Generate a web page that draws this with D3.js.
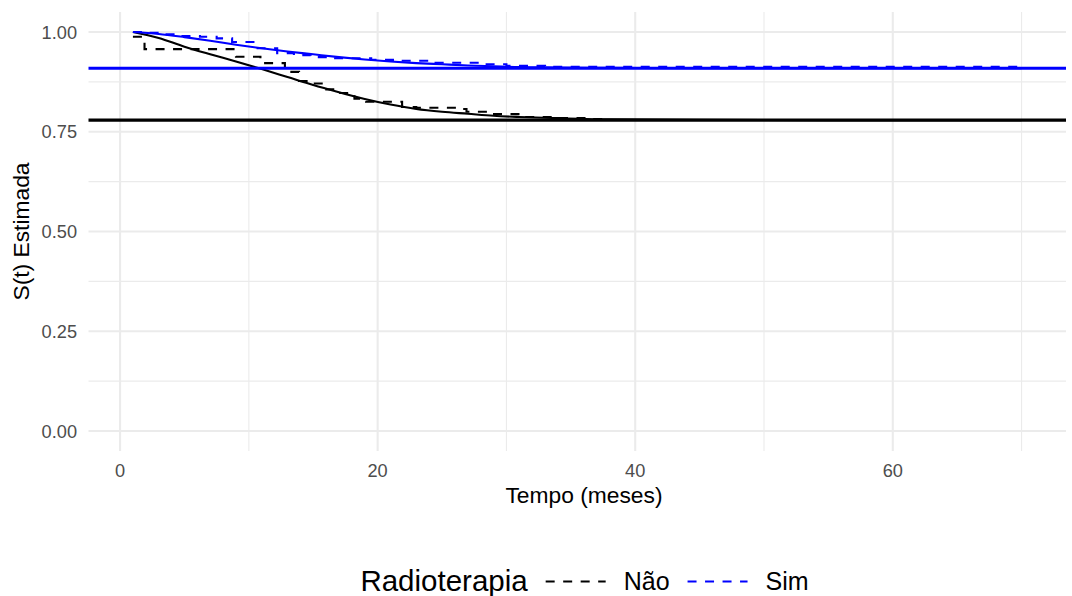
<!DOCTYPE html>
<html>
<head>
<meta charset="utf-8">
<script src="https://cdn.jsdelivr.net/npm/d3@7"></script>
<style>
  body { margin: 0; background: #fff; }
  text { font-family: "Liberation Sans", Arial, sans-serif; }
</style>
</head>
<body>
<svg id="chart" width="1072" height="596"></svg>
<script>
// groups (Radioterapia)
const groups = ["Não", "Sim"];
const groupColors = ["#000000", "#0000FF"];
const cureLevels = [0.779, 0.909];

// Kaplan-Meier estimates (step curves)
const kmNaoTime = [1, 1.9, 9.0, 10.9, 12.8, 13.9, 14.8, 15.8, 17.0, 18.2, 19.1, 21.9, 23.0, 26.1, 26.9, 28.6, 31.2, 34.0, 36.5, 38.0];
const kmNaoSurv = [0.988, 0.957, 0.938, 0.922, 0.900, 0.877, 0.871, 0.856, 0.847, 0.833, 0.825, 0.812, 0.810, 0.807, 0.800, 0.794, 0.787, 0.784, 0.782, 0.782];
const kmSimTime = [1, 2.2, 3.5, 4.7, 6.2, 7.5, 8.7, 10.5, 12.2, 13.5, 14.8, 16.5, 19.5, 21.5, 24.5, 28.2, 30.0, 33.0, 70];
const kmSimSurv = [1.000, 0.998, 0.994, 0.990, 0.988, 0.984, 0.975, 0.959, 0.947, 0.942, 0.937, 0.934, 0.930, 0.928, 0.923, 0.919, 0.915, 0.913, 0.913];

// fitted cure-model curves
const fitTime = [1, 3, 5, 7, 9, 11, 13, 15, 17, 19, 21, 23, 25, 27, 29, 31, 34, 38, 45, 55, 70];
const fitNao = [1.000, 0.985, 0.963, 0.944, 0.926, 0.907, 0.887, 0.867, 0.849, 0.832, 0.818, 0.807, 0.800, 0.795, 0.790, 0.787, 0.784, 0.781, 0.780, 0.779, 0.779];
const fitSim = [1.000, 0.995, 0.987, 0.978, 0.968, 0.959, 0.951, 0.944, 0.937, 0.931, 0.926, 0.922, 0.919, 0.916, 0.914, 0.912, 0.911, 0.910, 0.909, 0.909, 0.909];

const xTicks = [0, 20, 40, 60];
const xMinor = [10, 30, 50, 70];
const yTicks = [0, 0.25, 0.5, 0.75, 1];
const yMinor = [0.125, 0.375, 0.625, 0.875];

const svg = d3.select("#chart");
const pLeft = 88.5, pRight = 1066, pTop = 12, pBottom = 451;

const allT = kmNaoTime.concat(kmSimTime, fitTime);
const tExt = d3.extent(allT);
const padX = (tExt[1] - tExt[0]) * 0.05;
const x = d3.scaleLinear().domain([tExt[0] - padX, tExt[1] + padX]).range([pLeft, pRight]);
const y = d3.scaleLinear().domain([-0.05, 1.05]).range([pBottom, pTop]);

// grid
const grid = svg.append("g");
grid.selectAll(".ymin").data(yMinor).enter().append("line")
    .attr("x1", pLeft).attr("x2", pRight)
    .attr("y1", d => y(d)).attr("y2", d => y(d))
    .attr("stroke", "#EBEBEB").attr("stroke-width", 1.1);
grid.selectAll(".xmin").data(xMinor).enter().append("line")
    .attr("y1", pTop).attr("y2", pBottom)
    .attr("x1", d => x(d)).attr("x2", d => x(d))
    .attr("stroke", "#EBEBEB").attr("stroke-width", 1.1);
grid.selectAll(".ymaj").data(yTicks).enter().append("line")
    .attr("x1", pLeft).attr("x2", pRight)
    .attr("y1", d => y(d)).attr("y2", d => y(d))
    .attr("stroke", "#EBEBEB").attr("stroke-width", 2.1);
grid.selectAll(".xmaj").data(xTicks).enter().append("line")
    .attr("y1", pTop).attr("y2", pBottom)
    .attr("x1", d => x(d)).attr("x2", d => x(d))
    .attr("stroke", "#EBEBEB").attr("stroke-width", 2.1);

// tick labels
svg.append("g").selectAll("text").data(yTicks).enter().append("text")
    .attr("x", 77).attr("y", d => y(d)).attr("dy", "0.36em")
    .attr("text-anchor", "end").attr("fill", "#4D4D4D").attr("font-size", 18.2)
    .text(d => d3.format(".2f")(d));
svg.append("g").selectAll("text").data(xTicks).enter().append("text")
    .attr("x", d => x(d)).attr("y", 477)
    .attr("text-anchor", "middle").attr("fill", "#4D4D4D").attr("font-size", 18.2)
    .text(d => d);

// axis titles
svg.append("text").attr("x", 584).attr("y", 503)
    .attr("text-anchor", "middle").attr("font-size", 22.8).attr("fill", "#000")
    .text("Tempo (meses)");
svg.append("text").attr("transform", `translate(29,${(pTop + pBottom) / 2}) rotate(-90)`)
    .attr("text-anchor", "middle").attr("font-size", 22.8).attr("fill", "#000")
    .text("S(t) Estimada");

// KM curves
const kmData = [
    d3.zip(kmNaoTime, kmNaoSurv),
    d3.zip(kmSimTime, kmSimSurv)
];
const stepLine = d3.line().x(d => x(d[0])).y(d => y(d[1])).curve(d3.curveStepAfter);
svg.append("g").selectAll("path").data(kmData).enter().append("path")
    .attr("d", stepLine)
    .attr("fill", "none")
    .attr("stroke", (d, i) => groupColors[i])
    .attr("stroke-width", 2.1)
    .attr("stroke-dasharray", "9 8.5");

// fitted curves
const fitData = [d3.zip(fitTime, fitNao), d3.zip(fitTime, fitSim)];
const smooth = d3.line().x(d => x(d[0])).y(d => y(d[1])).curve(d3.curveMonotoneX);
svg.append("g").selectAll("path").data(fitData).enter().append("path")
    .attr("d", smooth)
    .attr("fill", "none")
    .attr("stroke", (d, i) => groupColors[i])
    .attr("stroke-width", 2.1);

// cure fraction lines
svg.append("g").selectAll("line").data(cureLevels).enter().append("line")
    .attr("x1", pLeft).attr("x2", pRight)
    .attr("y1", d => y(d)).attr("y2", d => y(d))
    .attr("stroke", (d, i) => groupColors[i])
    .attr("stroke-width", 3.2);

// legend
const legend = svg.append("g");
const keyY = 581.5;
const title = legend.append("text").attr("x", 0).attr("y", 591)
    .attr("font-size", 29.5).attr("fill", "#000").text("Radioterapia");
let cx = title.node().getComputedTextLength() + 18;
groups.forEach((g, i) => {
    legend.append("line")
        .attr("x1", cx).attr("x2", cx + 60)
        .attr("y1", keyY).attr("y2", keyY)
        .attr("stroke", groupColors[i]).attr("stroke-width", 2.1)
        .attr("stroke-dasharray", "9 8.5");
    cx += 78;
    const t = legend.append("text").attr("x", cx).attr("y", 590)
        .attr("font-size", 25).attr("fill", "#000").text(g);
    cx += t.node().getComputedTextLength() + 18;
});
const legendWidth = cx - 18;
legend.attr("transform", `translate(${584.5 - legendWidth / 2},0)`);
</script>
</body>
</html>
